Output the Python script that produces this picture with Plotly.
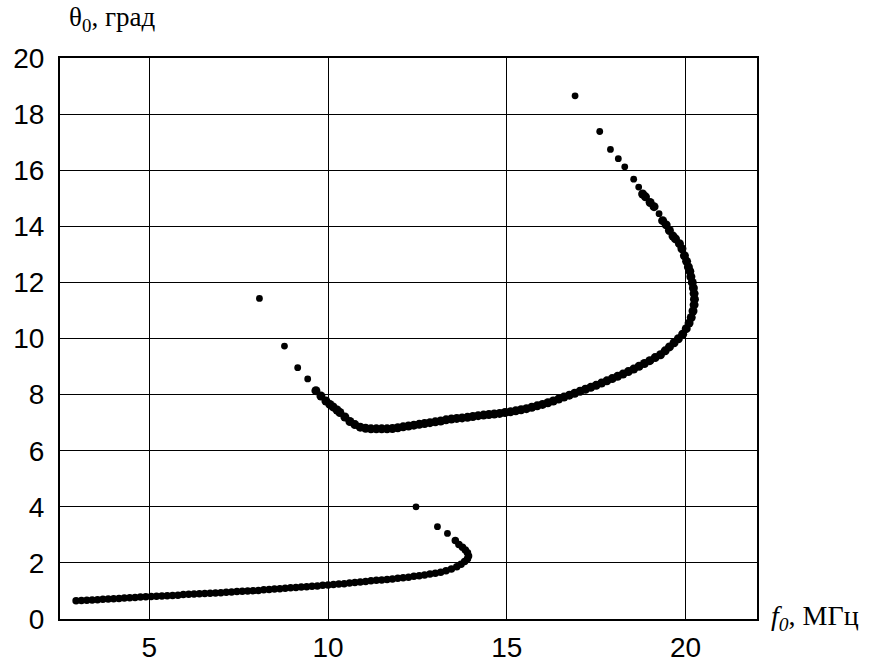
import numpy as np
import plotly.graph_objects as go

# Lower branch (f0, MHz ; theta0, deg)
lower_f = [2.95, 3.10, 3.25, 3.40, 3.55, 3.70, 3.85, 4.00, 4.15, 4.30, 4.45, 4.60, 4.75, 4.90,
           5.05, 5.20, 5.35, 5.50, 5.65, 5.80, 5.95, 6.10, 6.25, 6.40, 6.55, 6.70, 6.85, 7.00,
           7.15, 7.30, 7.45, 7.60, 7.75, 7.90, 8.05, 8.20, 8.35, 8.50, 8.65, 8.80, 8.95, 9.10,
           9.25, 9.40, 9.55, 9.70, 9.85, 10.00, 10.15, 10.30, 10.45, 10.60, 10.75, 10.90, 11.05,
           11.20, 11.35, 11.50, 11.65, 11.80, 11.95, 12.10, 12.25, 12.40, 12.55, 12.70, 12.85,
           13.00, 13.15, 13.30, 13.45, 13.60, 13.72, 13.82, 13.90, 13.93, 13.90, 13.84, 13.76,
           13.66, 13.56, 13.34, 13.06, 12.46]
lower_t = [0.65, 0.66, 0.67, 0.68, 0.69, 0.70, 0.71, 0.72, 0.73, 0.75, 0.76, 0.77, 0.78, 0.79,
           0.80, 0.81, 0.82, 0.83, 0.84, 0.85, 0.87, 0.88, 0.89, 0.90, 0.91, 0.92, 0.93, 0.94,
           0.95, 0.96, 0.98, 0.99, 1.00, 1.01, 1.02, 1.04, 1.05, 1.07, 1.08, 1.10, 1.11, 1.12,
           1.14, 1.15, 1.17, 1.18, 1.20, 1.21, 1.23, 1.25, 1.26, 1.28, 1.30, 1.32, 1.34,
           1.36, 1.38, 1.39, 1.41, 1.43, 1.45, 1.47, 1.49, 1.52, 1.54, 1.57, 1.60,
           1.63, 1.67, 1.72, 1.78, 1.86, 1.95, 2.05, 2.15, 2.25, 2.36, 2.46, 2.56,
           2.66, 2.80, 3.05, 3.29, 4.00]

# Upper branch
upper_f = [8.08, 8.78, 9.15, 9.43, 9.66, 9.80, 9.94, 10.05, 10.14, 10.25, 10.33, 10.47, 10.61,
           10.75, 10.90, 11.05, 11.20, 11.35, 11.50, 11.65, 11.80, 11.95, 12.10, 12.25, 12.40,
           12.55, 12.70, 12.85, 13.00, 13.15, 13.30, 13.45, 13.60, 13.75, 13.90, 14.05, 14.20,
           14.35, 14.50, 14.65, 14.80, 14.95, 15.10, 15.25, 15.40, 15.55, 15.70, 15.85, 16.00,
           16.15, 16.30, 16.45, 16.60, 16.75, 16.90, 17.05, 17.20, 17.35, 17.50, 17.65, 17.80,
           17.95, 18.10, 18.25, 18.40, 18.55, 18.70, 18.85, 19.00, 19.15, 19.30, 19.43, 19.55,
           19.68, 19.80, 19.92, 20.02, 20.10, 20.16, 20.21, 20.24, 20.25, 20.24, 20.22, 20.19,
           20.15, 20.12, 20.08, 20.03, 19.97, 19.90, 19.83, 19.72, 19.65, 19.55, 19.46, 19.36,
           19.26, 19.12, 19.01, 18.88, 18.80, 18.69, 18.55, 18.30, 18.12, 17.90, 17.60, 16.91]
upper_t = [11.43, 9.73, 8.96, 8.56, 8.14, 7.95, 7.77, 7.65, 7.56, 7.45, 7.36, 7.20, 7.04,
           6.93, 6.84, 6.80, 6.78, 6.78, 6.78, 6.78, 6.79, 6.82, 6.85, 6.88, 6.91,
           6.94, 6.97, 7.00, 7.03, 7.06, 7.10, 7.13, 7.15, 7.17, 7.19, 7.22, 7.25,
           7.27, 7.29, 7.31, 7.33, 7.36, 7.39, 7.42, 7.46, 7.50, 7.55, 7.60, 7.65,
           7.71, 7.77, 7.84, 7.91, 7.98, 8.05, 8.12, 8.19, 8.26, 8.33, 8.41, 8.49,
           8.57, 8.65, 8.73, 8.82, 8.91, 9.01, 9.11, 9.21, 9.32, 9.42, 9.56, 9.70,
           9.85, 9.99, 10.15, 10.35, 10.55, 10.75, 10.98, 11.20, 11.40, 11.60, 11.80, 12.00,
           12.20, 12.40, 12.55, 12.75, 12.95, 13.20, 13.38, 13.55, 13.65, 13.85, 14.05, 14.20,
           14.45, 14.70, 14.85, 15.05, 15.15, 15.40, 15.68, 16.12, 16.41, 16.74, 17.38, 18.65]

x_ticks = [5, 10, 15, 20]
y_ticks = [0, 2, 4, 6, 8, 10, 12, 14, 16, 18, 20]

X_RANGE = [2.5, 22]
Y_RANGE = [0, 20]
PX_X = 697 / (X_RANGE[1] - X_RANGE[0])
PX_Y = 561 / (Y_RANGE[1] - Y_RANGE[0])


def marker_sizes(fx, ty, dense_size, sparse_size):
    """Dense (overlapping) runs are drawn with bigger dots, like the scanned curve."""
    p = np.column_stack([np.array(fx) * PX_X, np.array(ty) * PX_Y])
    d = np.sqrt(((p[:, None, :] - p[None, :, :]) ** 2).sum(-1))
    np.fill_diagonal(d, np.inf)
    nn = d.min(axis=1)
    return [dense_size if v < 7.5 else sparse_size for v in nn]


fig = go.Figure()
for fx, ty, dense in [(lower_f, lower_t, 7.5), (upper_f, upper_t, 9)]:
    fig.add_trace(go.Scatter(x=fx, y=ty, mode="markers",
                             marker=dict(color="black", opacity=1,
                                         size=marker_sizes(fx, ty, dense, 6.8),
                                         line=dict(width=0)),
                             showlegend=False, hoverinfo="skip"))

axis_common = dict(showgrid=True, gridcolor="black", gridwidth=1.2,
                   showline=True, linecolor="black", linewidth=2, mirror=True,
                   zeroline=False, ticks="", automargin=False,
                   tickfont=dict(family="Liberation Sans, Arial", size=28, color="black"))

fig.update_xaxes(range=X_RANGE, tickvals=x_ticks, ticktext=[str(v) for v in x_ticks],
                 ticklabelstandoff=2, **axis_common)
fig.update_yaxes(range=Y_RANGE, tickvals=y_ticks, ticktext=[str(v) for v in y_ticks],
                 ticklabelstandoff=8, **axis_common)

fig.add_annotation(text="θ<sub>0</sub>, град", xref="paper", yref="paper",
                   x=-0.004, y=1.0, xanchor="left", yanchor="bottom", yshift=20, xshift=10,
                   showarrow=False,
                   font=dict(family="Liberation Serif, Times New Roman", size=27, color="black"))
fig.add_annotation(text="<i>f<sub>0</sub></i>, МГц", xref="paper", yref="paper",
                   x=1.0, y=0.0, xanchor="left", yanchor="middle", xshift=12, yshift=2,
                   showarrow=False,
                   font=dict(family="Liberation Serif, Times New Roman", size=28, color="black"))

fig.update_layout(width=878, height=664, margin=dict(l=60, r=121, t=58, b=45),
                  plot_bgcolor="white", paper_bgcolor="white")

fig.write_html("out.html")
